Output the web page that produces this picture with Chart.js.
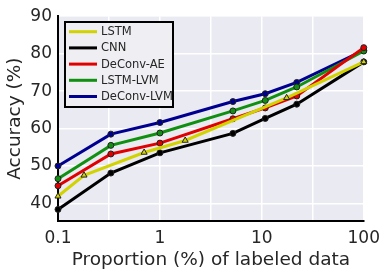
<!DOCTYPE html>
<html>
<head>
<meta charset="utf-8">
<script src="https://cdn.jsdelivr.net/npm/chart.js@4/dist/chart.umd.min.js"></script>
<style>
  html, body { margin: 0; padding: 0; background: #fff; }
  #wrap { width: 387px; height: 276px; }
</style>
</head>
<body>
<div id="wrap"><canvas id="accChart"></canvas></div>
<script>
// values
const proportions = [0.1, 0.33, 1, 5.2, 10.8, 22, 100];
const lstmX = [0.1, 0.18, 0.7, 1.77, 17.5, 100];
const lstmAcc = [41.9, 47.5, 53.6, 56.8, 68.2, 77.8];
const cnnAcc = [38.4, 48.1, 53.5, 58.7, 62.7, 66.5, 77.8];
const deconvAeAcc = [44.7, 53.2, 56.1, 62.6, 65.5, 68.7, 81.6];
const lstmLvmAcc = [46.6, 55.5, 58.8, 64.7, 67.5, 71.1, 80.7];
const deconvLvmAcc = [50.0, 58.5, 61.6, 67.2, 69.3, 72.3, 80.9];
const xTicks = [0.1, 0.316, 1, 3.16, 10, 31.6, 100];
const xTickLabels = ["0.1", "", "1", "", "10", "", "100"];
const yTicks = [40, 50, 60, 70, 80, 90];

const textColor = "#262626";
const fontFamily = "'DejaVu Sans', sans-serif";

function pairs(xs, ys) {
    return xs.map((x, i) => ({ x: x, y: ys[i] }));
}

function series(label, color, xs, ys, marker) {
    return {
        label: label,
        data: pairs(xs, ys),
        borderColor: color,
        backgroundColor: color,
        borderWidth: 3,
        pointStyle: marker,
        pointRadius: marker === "triangle" ? 3.5 : 3,
        pointBorderColor: "#222",
        pointBorderWidth: 1,
        pointBackgroundColor: color,
        tension: 0
    };
}

// grey plot background like seaborn
const plotBackground = {
    id: "plotBackground",
    beforeDraw(chart) {
        const a = chart.chartArea;
        const c = chart.ctx;
        c.save();
        c.fillStyle = "#EAEAF2";
        c.fillRect(a.left, a.top, a.right - a.left, a.bottom - a.top);
        c.restore();
    }
};

// boxed legend in the upper left corner
const boxLegend = {
    id: "boxLegend",
    afterDraw(chart) {
        const c = chart.ctx;
        const sets = chart.data.datasets;
        c.save();
        c.fillStyle = "#EEEEF3";
        c.fillRect(65, 22, 108, 85);
        c.strokeStyle = "#000";
        c.lineWidth = 2;
        c.strokeRect(65, 22, 108, 85);
        c.font = "11.5px " + fontFamily;
        c.textBaseline = "middle";
        sets.forEach((ds, i) => {
            const y = 31.7 + i * 16.2;
            c.strokeStyle = ds.borderColor;
            c.lineWidth = 3;
            c.beginPath();
            c.moveTo(69, y);
            c.lineTo(97, y);
            c.stroke();
            c.fillStyle = textColor;
            c.fillText(ds.label, 101, y + 0.5);
        });
        c.restore();
    }
};

const ctx = document.getElementById("accChart").getContext("2d");

const chart = new Chart(ctx, {
    type: "line",
    data: {
        datasets: [
            series("LSTM", "#d2d200", lstmX, lstmAcc, "triangle"),
            series("CNN", "#000000", proportions, cnnAcc, "circle"),
            series("DeConv-AE", "#e00000", proportions, deconvAeAcc, "circle"),
            series("LSTM-LVM", "#109010", proportions, lstmLvmAcc, "circle"),
            series("DeConv-LVM", "#000090", proportions, deconvLvmAcc, "circle")
        ]
    },
    options: {
        responsive: true,
        maintainAspectRatio: false,
        animation: false,
        clip: false,
        layout: { padding: { top: 15, right: 21, left: 0, bottom: 0 } },
        plugins: {
            legend: { display: false },
            tooltip: { enabled: false }
        },
        scales: {
            x: {
                type: "logarithmic",
                min: 0.1,
                max: 100,
                afterBuildTicks: (scale) => {
                    scale.ticks = xTicks.map(v => ({ value: v }));
                },
                afterFit: (scale) => { scale.height = 55; },
                ticks: {
                    color: textColor,
                    font: { family: fontFamily, size: 17 },
                    padding: 7,
                    maxRotation: 0,
                    autoSkip: false,
                    callback: (value, index) => xTickLabels[index]
                },
                grid: { color: "#ffffff", lineWidth: 1.5, drawTicks: false },
                border: { color: "#000", width: 2 },
                title: {
                    display: true,
                    text: "Proportion (%) of labeled data",
                    color: textColor,
                    font: { family: fontFamily, size: 18.5 },
                    padding: { top: 0, bottom: 5 }
                }
            },
            y: {
                min: 35.3,
                max: 90,
                afterBuildTicks: (scale) => {
                    scale.ticks = yTicks.map(v => ({ value: v }));
                },
                afterFit: (scale) => { scale.width = 58; },
                ticks: {
                    color: textColor,
                    font: { family: fontFamily, size: 17 },
                    padding: 6
                },
                grid: { color: "#ffffff", lineWidth: 1.5, drawTicks: false },
                border: { color: "#000", width: 2 },
                title: {
                    display: true,
                    text: "Accuracy (%)",
                    color: textColor,
                    font: { family: fontFamily, size: 18.5 },
                    padding: { top: 4, bottom: 0 }
                }
            }
        }
    },
    plugins: [plotBackground, boxLegend]
});
</script>
</body>
</html>
